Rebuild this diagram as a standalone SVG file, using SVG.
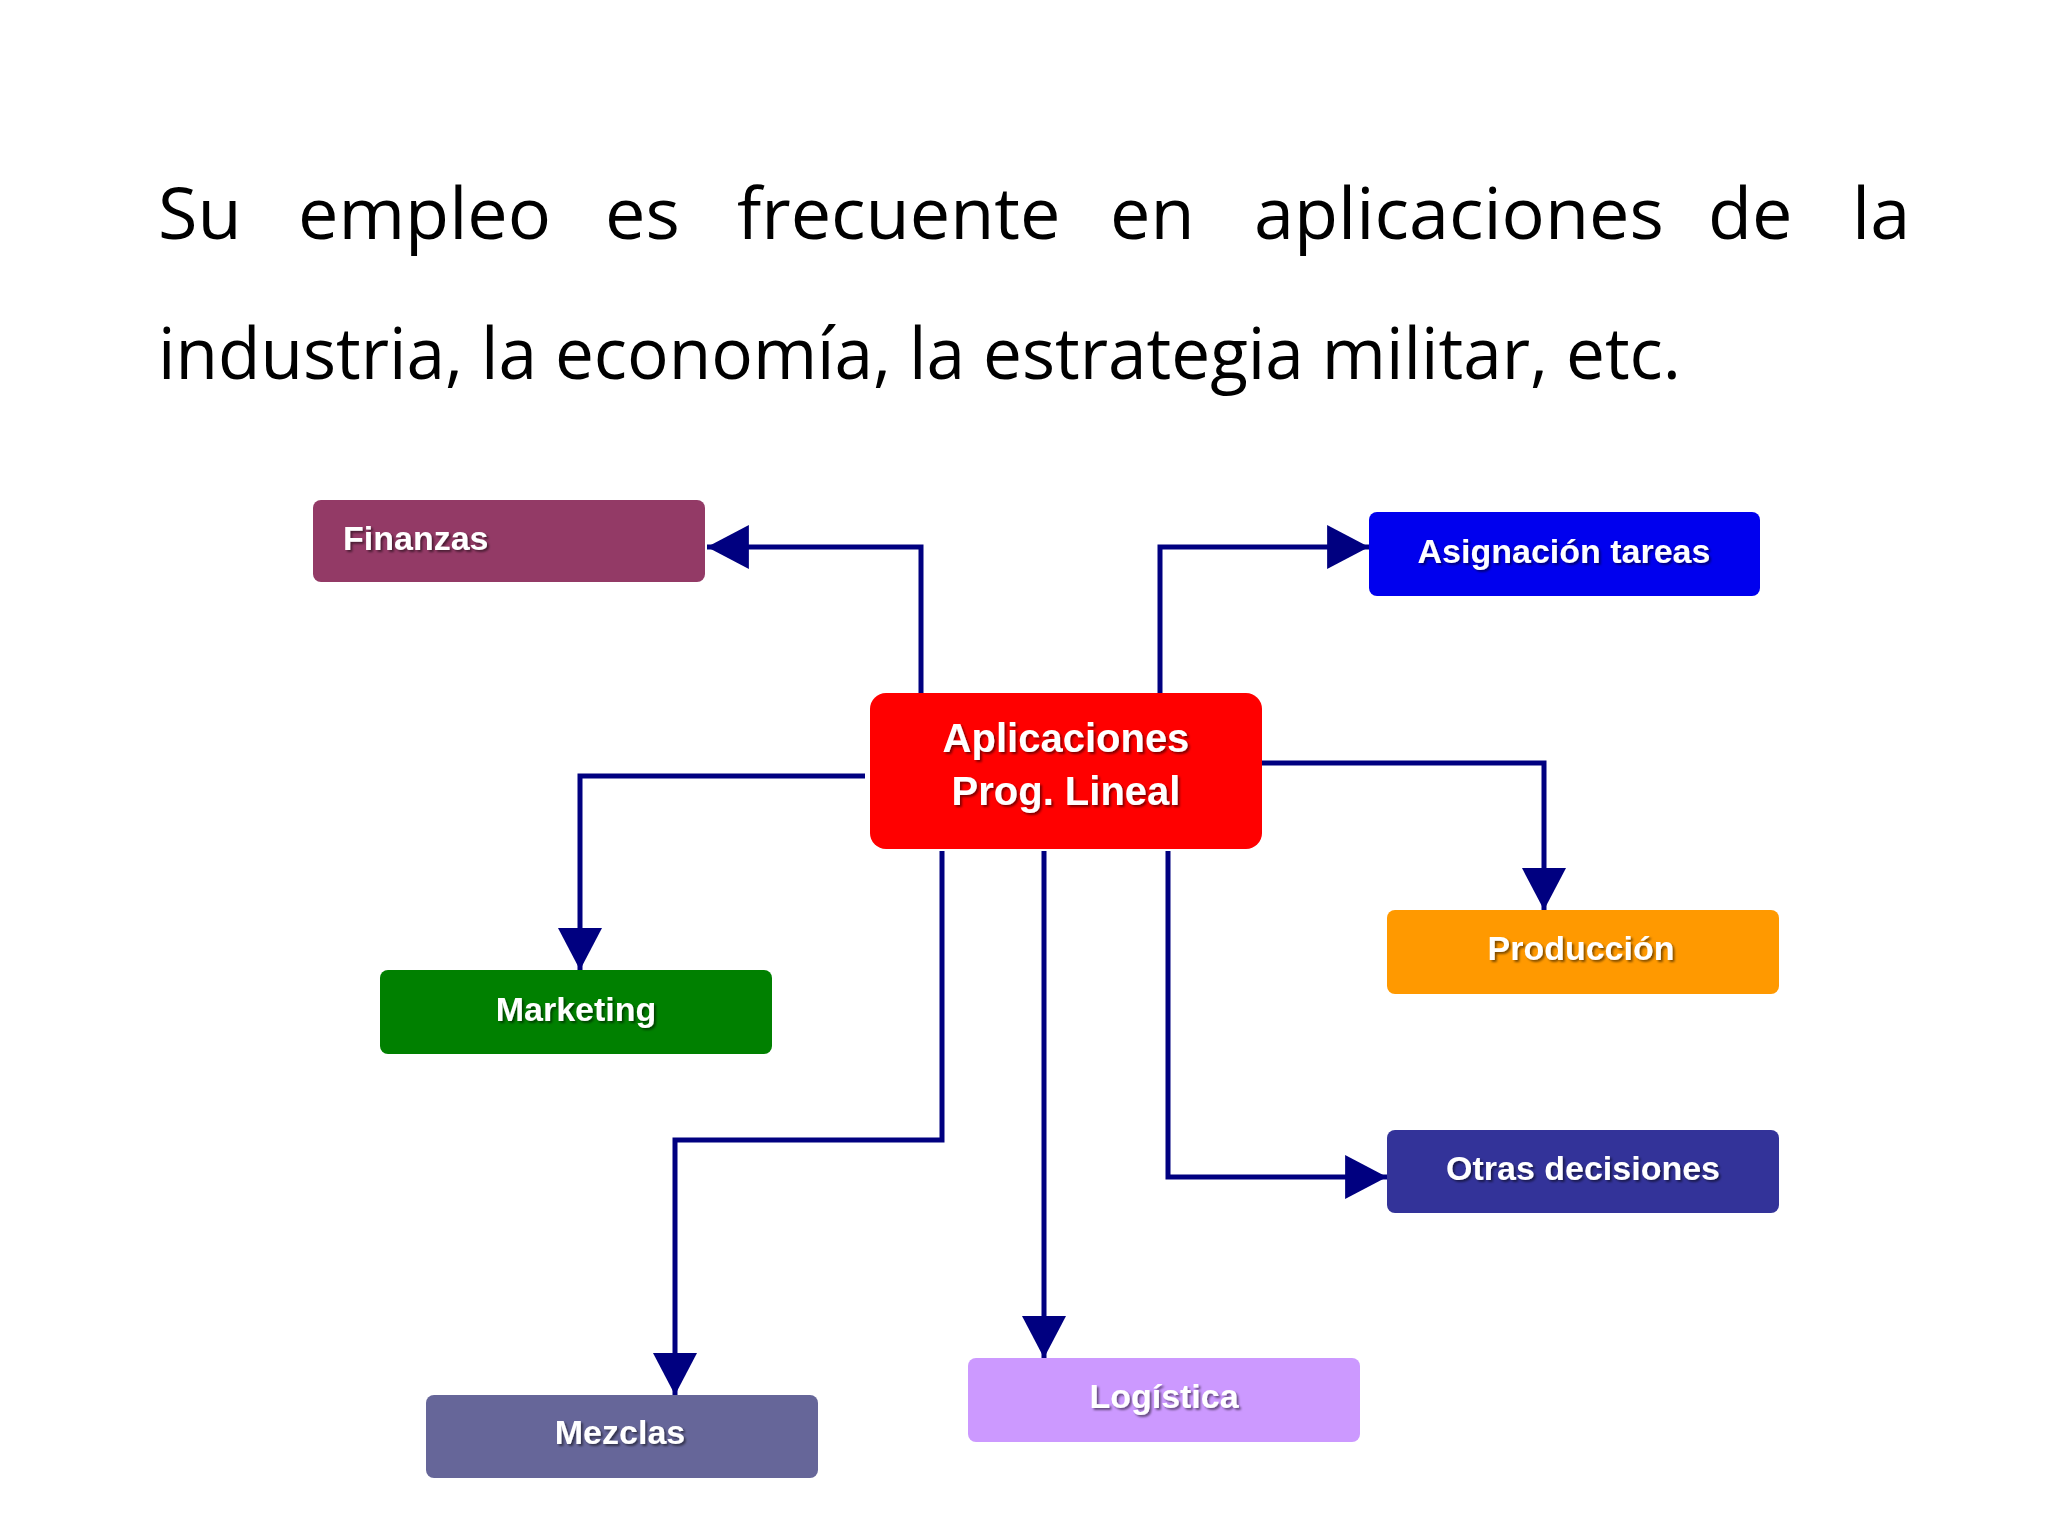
<svg xmlns="http://www.w3.org/2000/svg" width="2048" height="1536" viewBox="0 0 2048 1536">
<style>
.t{font-family:"Open Sans","Noto Sans",sans-serif;font-size:72px;fill:#000}
.lb{font-family:"Liberation Sans",Arial,sans-serif;font-weight:bold;font-size:34px;fill:#fff;text-anchor:middle}
.c{fill:none;stroke:#000080;stroke-width:5;marker-end:url(#a)}
</style>
<defs>
<marker id="a" markerUnits="userSpaceOnUse" markerWidth="44" markerHeight="44" viewBox="0 0 40 42" refX="40" refY="21" orient="auto"><path d="M0,0L40,21L0,42Z" fill="#000080"/></marker>
<filter id="s"><feDropShadow dx="2" dy="2" stdDeviation="1" flood-color="#000" flood-opacity="0.5"/></filter>
</defs>
<rect width="2048" height="1536" fill="#fff"/>
<g id="title">
<text class="t" y="239"><tspan x="158">Su</tspan><tspan x="298">empleo</tspan><tspan x="605">es</tspan><tspan x="737">frecuente</tspan><tspan x="1110">en</tspan><tspan x="1254">aplicaciones</tspan><tspan x="1708">de</tspan><tspan x="1852">la</tspan></text>
<text class="t" x="158" y="379" textLength="1523" lengthAdjust="spacingAndGlyphs">industria, la economía, la estrategia militar, etc.</text>
</g>
<g id="connectors">
<polyline class="c" points="921,693 921,547 707,547"/>
<polyline class="c" points="1160,693 1160,547 1369,547"/>
<polyline class="c" points="865,776 580,776 580,970"/>
<polyline class="c" points="1262,763 1544,763 1544,910"/>
<polyline class="c" points="1168,851 1168,1177 1387,1177"/>
<polyline class="c" points="942,851 942,1140 675,1140 675,1395"/>
<polyline class="c" points="1044,851 1044,1358"/>
</g>
<g id="finanzas"><rect x="313" y="500" width="392" height="82" rx="8" fill="#933a66"/><text class="lb" x="343" y="550" style="text-anchor:start" filter="url(#s)">Finanzas</text></g>
<g id="asignacion"><rect x="1369" y="512" width="391" height="84" rx="8" fill="#0000ee"/><text class="lb" x="1564" y="563" filter="url(#s)">Asignación tareas</text></g>
<g id="center"><rect x="870" y="693" width="392" height="156" rx="16" fill="#ff0000"/><text class="lb" x="1066" y="752" font-size="40" style="font-size:40px" filter="url(#s)">Aplicaciones</text><text class="lb" x="1066" y="805" style="font-size:40px" filter="url(#s)">Prog. Lineal</text></g>
<g id="marketing"><rect x="380" y="970" width="392" height="84" rx="8" fill="#008000"/><text class="lb" x="576" y="1021" filter="url(#s)">Marketing</text></g>
<g id="produccion"><rect x="1387" y="910" width="392" height="84" rx="8" fill="#ff9900"/><text class="lb" x="1581" y="960" filter="url(#s)">Producción</text></g>
<g id="otras"><rect x="1387" y="1130" width="392" height="83" rx="8" fill="#333399"/><text class="lb" x="1583" y="1180" filter="url(#s)">Otras decisiones</text></g>
<g id="mezclas"><rect x="426" y="1395" width="392" height="83" rx="8" fill="#666699"/><text class="lb" x="620" y="1444" filter="url(#s)">Mezclas</text></g>
<g id="logistica"><rect x="968" y="1358" width="392" height="84" rx="8" fill="#cc99ff"/><text class="lb" x="1164" y="1408" filter="url(#s)">Logística</text></g>
</svg>
